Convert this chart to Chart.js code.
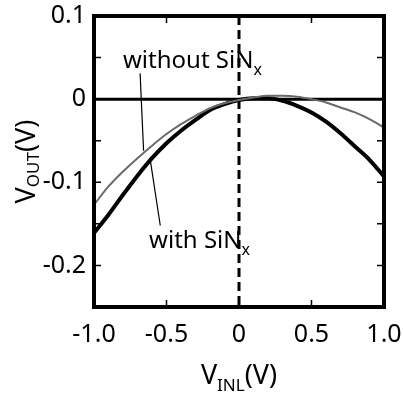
<!DOCTYPE html>
<html>
<head>
<meta charset="utf-8">
<script src="https://cdn.jsdelivr.net/npm/chart.js@4.4.1/dist/chart.umd.min.js"></script>
<style>
  html, body { margin: 0; padding: 0; background: #fff; }
  canvas { display: block; }
</style>
</head>
<body>
<canvas id="grafico" width="403" height="395"></canvas>
<script>
// V_INL (V)
const vin = [-1.0, -0.9, -0.8, -0.7, -0.6, -0.5, -0.4, -0.3, -0.2, -0.1, 0.0,
             0.1, 0.2, 0.3, 0.4, 0.5, 0.6, 0.7, 0.8, 0.9, 1.0];
// V_OUT (V)
const comSiN = [-0.161, -0.139, -0.115, -0.092, -0.071, -0.053, -0.038, -0.025, -0.013, -0.006, -0.001,
                0.001, 0.001, -0.002, -0.008, -0.016, -0.027, -0.041, -0.057, -0.073, -0.093];
const semSiN = [-0.127, -0.105, -0.087, -0.071, -0.056, -0.042, -0.030, -0.020, -0.011, -0.005, -0.001,
                0.002, 0.004, 0.004, 0.003, 0.000, -0.004, -0.010, -0.016, -0.024, -0.034];

const xTicks = [-1.0, -0.5, 0, 0.5, 1.0];
const yTicks = [-0.25, -0.2, -0.15, -0.1, -0.05, 0, 0.05, 0.1];
const yLabels = [-0.2, -0.1, 0, 0.1];

// anotações em coordenadas de dados: [x, y]
const rotuloSem = [-0.80, 0.038];
const rotuloCom = [-0.62, -0.179];
const linhaSem = [[-0.682, 0.031], [-0.658, -0.062]];
const linhaCom = [[-0.612, -0.073], [-0.543, -0.152]];

const fonte = '"Noto Sans", sans-serif';

function pontos(ys) {
  return vin.map((x, i) => ({ x, y: ys[i] }));
}

function textoSub(ctx, x, y, base, sub, resto, tam, tamSub, desce, centro) {
  ctx.font = tam + 'px ' + fonte;
  const w1 = ctx.measureText(base).width;
  const w3 = ctx.measureText(resto).width;
  ctx.font = tamSub + 'px ' + fonte;
  const w2 = ctx.measureText(sub).width;
  let x0 = centro ? x - (w1 + w2 + w3) / 2 : x;
  ctx.textAlign = 'left';
  ctx.textBaseline = 'alphabetic';
  ctx.font = tam + 'px ' + fonte;
  ctx.fillText(base, x0, y);
  ctx.font = tamSub + 'px ' + fonte;
  ctx.fillText(sub, x0 + w1, y + desce);
  ctx.font = tam + 'px ' + fonte;
  if (resto) ctx.fillText(resto, x0 + w1 + w2, y);
}

const moldura = {
  id: 'moldura',
  beforeDatasetsDraw(chart) {
    const { ctx, chartArea: a, scales: { x, y } } = chart;
    ctx.save();
    // linha do zero
    ctx.strokeStyle = '#000';
    ctx.lineWidth = 3;
    ctx.beginPath();
    ctx.moveTo(a.left, y.getPixelForValue(0));
    ctx.lineTo(a.right, y.getPixelForValue(0));
    ctx.stroke();
    // tracejado vertical em x = 0
    ctx.setLineDash([9, 5]);
    ctx.beginPath();
    ctx.moveTo(x.getPixelForValue(0), a.top);
    ctx.lineTo(x.getPixelForValue(0), a.bottom);
    ctx.stroke();
    ctx.restore();
  },
  afterDatasetsDraw(chart) {
    const { ctx, chartArea: a, scales: { x, y } } = chart;
    ctx.save();
    ctx.strokeStyle = '#000';
    ctx.lineWidth = 1.5;
    // ticks internos
    ctx.beginPath();
    yTicks.forEach(v => {
      const py = y.getPixelForValue(v);
      ctx.moveTo(a.left, py); ctx.lineTo(a.left + 7, py);
      ctx.moveTo(a.right, py); ctx.lineTo(a.right - 7, py);
    });
    xTicks.forEach(v => {
      const px = x.getPixelForValue(v);
      ctx.moveTo(px, a.top); ctx.lineTo(px, a.top + 7);
      ctx.moveTo(px, a.bottom); ctx.lineTo(px, a.bottom - 7);
    });
    ctx.stroke();
    // linhas de chamada
    ctx.lineWidth = 1.2;
    ctx.beginPath();
    [linhaSem, linhaCom].forEach(l => {
      ctx.moveTo(x.getPixelForValue(l[0][0]), y.getPixelForValue(l[0][1]));
      ctx.lineTo(x.getPixelForValue(l[1][0]), y.getPixelForValue(l[1][1]));
    });
    ctx.stroke();
    // borda
    ctx.lineWidth = 4;
    ctx.strokeRect(a.left, a.top, a.right - a.left, a.bottom - a.top);
    // rótulos
    ctx.fillStyle = '#000';
    textoSub(ctx, x.getPixelForValue(rotuloSem[0]), y.getPixelForValue(rotuloSem[1]), 'without SiN', 'x', '', 24, 16, 7, false);
    textoSub(ctx, x.getPixelForValue(rotuloCom[0]), y.getPixelForValue(rotuloCom[1]), 'with SiN', 'x', '', 24, 16, 7, false);
    // títulos dos eixos
    textoSub(ctx, (a.left + a.right) / 2, 384, 'V', 'INL', '(V)', 27, 17, 7, true);
    ctx.translate(35, (a.top + a.bottom) / 2);
    ctx.rotate(-Math.PI / 2);
    textoSub(ctx, 0, 0, 'V', 'OUT', '(V)', 27, 17, 4, true);
    ctx.restore();
  }
};

new Chart(document.getElementById('grafico'), {
  type: 'scatter',
  data: {
    datasets: [
      { label: 'without SiNx', data: pontos(semSiN), showLine: true, borderColor: '#6a6a6a', borderWidth: 2,
        pointRadius: 0, cubicInterpolationMode: 'monotone' },
      { label: 'with SiNx', data: pontos(comSiN), showLine: true, borderColor: '#000', borderWidth: 4,
        pointRadius: 0, cubicInterpolationMode: 'monotone' }
    ]
  },
  options: {
    responsive: false,
    animation: false,
    devicePixelRatio: 1,
    layout: { padding: { top: 16, right: 19, left: 0, bottom: 0 } },
    plugins: { legend: { display: false }, tooltip: { enabled: false } },
    scales: {
      x: {
        type: 'linear', min: -1, max: 1,
        afterBuildTicks: s => { s.ticks = xTicks.map(v => ({ value: v })); },
        afterFit: s => { s.height = 88; s.paddingLeft = 0; s.paddingRight = 0; },
        grid: { display: false, drawTicks: false },
        border: { display: false },
        ticks: {
          color: '#000', font: { family: fonte, size: 25 }, padding: 13, maxRotation: 0,
          callback: v => v === 0 ? '0' : v.toFixed(1)
        }
      },
      y: {
        type: 'linear', min: -0.25, max: 0.1,
        afterBuildTicks: s => { s.ticks = yLabels.map(v => ({ value: v })); },
        afterFit: s => { s.width = 94; s.paddingTop = 0; s.paddingBottom = 0; },
        grid: { display: false, drawTicks: false },
        border: { display: false },
        ticks: {
          color: '#000', font: { family: fonte, size: 25 }, padding: 8,
          callback: v => v === 0 ? '0' : v.toFixed(1)
        }
      }
    }
  },
  plugins: [moldura]
});
</script>
</body>
</html>
